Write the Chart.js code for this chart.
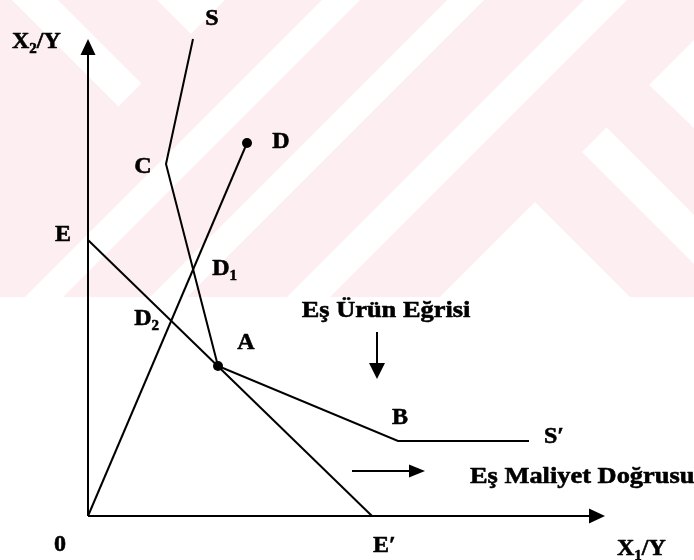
<!DOCTYPE html>
<html><head><meta charset="utf-8">
<script src="https://cdn.jsdelivr.net/npm/chart.js@4"></script>
<style>html,body{margin:0;padding:0;background:#fff}canvas{display:block}</style>
</head><body>
<canvas id="c" width="694" height="560"></canvas>
<script>
// ---- data (arbitrary units) ----
const isoquantX = [10.5, 7.8, 13.0, 31.0, 44.1];
const isoquantY = [47.7, 35.2, 15.0, 7.5, 7.5];
const isoquantNames = ['S', 'C', 'A', 'B', 'S′'];
const isocostX = [0, 28.4];
const isocostY = [27.6, 0];
const isocostNames = ['E', 'E′'];
const rayX = [0, 15.9];
const rayY = [0, 37.3];
const rayNames = ['0', 'D'];
const axisMax = [51.7, 47.7];
const captionIsoquant = 'Eş Ürün Eğrisi';
const captionIsocost = 'Eş Maliyet Doğrusu';
const isoquantArrowX = 28.9, isoquantArrowY = [18.4, 13.7];
const isocostArrowY = 4.5, isocostArrowX = [26.4, 33.7];

const toPts = (xs, ys) => xs.map((x, i) => ({x, y: ys[i]}));

// intersection of two lines (data space)
function intersect(p1, p2, p3, p4) {
  const d = (p1.x - p2.x) * (p3.y - p4.y) - (p1.y - p2.y) * (p3.x - p4.x);
  const t = ((p1.x - p3.x) * (p3.y - p4.y) - (p1.y - p3.y) * (p3.x - p4.x)) / d;
  return {x: p1.x + t * (p2.x - p1.x), y: p1.y + t * (p2.y - p1.y)};
}
const isoPts = toPts(isoquantX, isoquantY);
const costPts = toPts(isocostX, isocostY);
const rayPts = toPts(rayX, rayY);
const D1 = intersect(rayPts[0], rayPts[1], isoPts[1], isoPts[2]);
const D2 = intersect(rayPts[0], rayPts[1], costPts[0], costPts[1]);

// ---- label layout (pixel offsets from anchors) ----
const FONT = '"Liberation Serif","Times New Roman",serif';
const labelLayout = {
  'S': [19, -14, 'center'], 'C': [-23, 9, 'center'], 'A': [28, -17, 'center'],
  'B': [2, -17, 'center'], 'S′': [15, 2, 'left'], 'E': [-25, 1, 'center'],
  'E′': [1, 36, 'left'], 'D': [34, 5, 'center'], '0': [-28, 35, 'center']
};

function drawRuns(ctx, runs, x, y, align, stretch) {
  ctx.save();
  let w = 0;
  runs.forEach(r => { ctx.font = r.sub ? 'bold 15px ' + FONT : 'bold 24px ' + FONT; r.w = ctx.measureText(r.t).width; w += r.w; });
  ctx.translate(x, y);
  ctx.scale(stretch || 1, 1);
  let cx = align === 'center' ? -w / 2 : 0;
  ctx.textAlign = 'left';
  ctx.textBaseline = 'alphabetic';
  ctx.fillStyle = '#000';
  ctx.strokeStyle = '#000';
  ctx.lineWidth = 0.6;
  ctx.lineJoin = 'round';
  runs.forEach(r => {
    ctx.font = r.sub ? 'bold 15px ' + FONT : 'bold 24px ' + FONT;
    ctx.fillText(r.t, cx, r.sub ? 5 : 0);
    ctx.strokeText(r.t, cx, r.sub ? 5 : 0);
    cx += r.w;
  });
  ctx.restore();
}

function arrow(ctx, x1, y1, x2, y2, len, wid, lw) {
  const a = Math.atan2(y2 - y1, x2 - x1);
  ctx.save();
  ctx.strokeStyle = '#000'; ctx.fillStyle = '#000'; ctx.lineWidth = lw;
  ctx.beginPath();
  ctx.moveTo(x1, y1);
  ctx.lineTo(x2 - Math.cos(a) * (len - 2), y2 - Math.sin(a) * (len - 2));
  ctx.stroke();
  ctx.translate(x2, y2); ctx.rotate(a);
  ctx.beginPath();
  ctx.moveTo(0, 0); ctx.lineTo(-len, -wid / 2); ctx.lineTo(-len, wid / 2); ctx.closePath();
  ctx.fill();
  ctx.restore();
}

const watermark = {
  id: 'watermark',
  beforeDraw(chart) {
    const ctx = chart.ctx;
    ctx.save();
    ctx.fillStyle = '#fff';
    ctx.fillRect(0, 0, chart.width, chart.height);
    ctx.beginPath(); ctx.rect(0, 0, chart.width, 297); ctx.clip();
    ctx.fillStyle = '#fdeef1';
    ctx.fillRect(0, 0, chart.width, 297);
    ctx.fillStyle = '#fff';
    const polys = [
      [[12,0],[58,0],[141.5,83.5],[118.5,106.5]],
      [[157,0],[225,0],[191,34]],
      [[322,0],[360,0],[63,297],[25,297]],
      [[447,0],[484,0],[187,297],[150,297]],
      [[584,0],[627,0],[330,297],[287,297]],
      [[649,85],[694,40],[694,128]],
      [[606.5,127.5],[694,215],[694,264],[582,152]],
      [[535,202],[440,297],[630,297]]
    ];
    polys.forEach(p => {
      ctx.beginPath();
      p.forEach((q, i) => i ? ctx.lineTo(q[0], q[1]) : ctx.moveTo(q[0], q[1]));
      ctx.closePath(); ctx.fill();
    });
    ctx.restore();
  }
};

const annotations = {
  id: 'annotations',
  afterDatasetsDraw(chart) {
    const ctx = chart.ctx, xs = chart.scales.x, ys = chart.scales.y, a = chart.chartArea;
    const px = v => xs.getPixelForValue(v), py = v => ys.getPixelForValue(v);
    // axes
    arrow(ctx, a.left, a.bottom, a.left, a.top, 16, 15, 2);
    arrow(ctx, a.left, a.bottom, a.right, a.bottom, 16, 15, 2);
    // caption arrows
    arrow(ctx, px(isoquantArrowX), py(isoquantArrowY[0]), px(isoquantArrowX), py(isoquantArrowY[1]), 16, 16, 2);
    arrow(ctx, px(isocostArrowX[0]), py(isocostArrowY), px(isocostArrowX[1]), py(isocostArrowY), 16, 13, 2);
    // point labels
    const named = [];
    isoquantNames.forEach((n, i) => named.push([n, isoPts[i]]));
    isocostNames.forEach((n, i) => named.push([n, costPts[i]]));
    rayNames.forEach((n, i) => named.push([n, rayPts[i]]));
    named.forEach(([n, p]) => {
      const L = labelLayout[n];
      drawRuns(ctx, [{t: n}], px(p.x) + L[0], py(p.y) + L[1], L[2]);
    });
    drawRuns(ctx, [{t: 'D'}, {t: '1', sub: true}], px(D1.x) + 19, py(D1.y) + 6, 'left');
    drawRuns(ctx, [{t: 'D'}, {t: '2', sub: true}], px(D2.x) - 37, py(D2.y) + 4, 'left');
    // axis titles
    drawRuns(ctx, [{t: 'X'}, {t: '2', sub: true}, {t: '/Y'}], a.left - 76, a.top + 9, 'left');
    drawRuns(ctx, [{t: 'X'}, {t: '1', sub: true}, {t: '/Y'}], a.right + 12, a.bottom + 39, 'left');
    // captions
    drawRuns(ctx, [{t: captionIsoquant}], px(isoquantArrowX) + 9, py(isoquantArrowY[0]) - 15, 'center', 1.1);
    drawRuns(ctx, [{t: captionIsocost}], px(isocostArrowX[1]) + 45, py(isocostArrowY) + 12, 'left', 1.1);
  }
};

const lineDs = (data, radii) => ({
  data, showLine: true, borderColor: '#000', borderWidth: 2, tension: 0,
  pointRadius: radii, pointHoverRadius: radii, pointBackgroundColor: '#000', pointBorderWidth: 0,
  borderJoinStyle: 'miter', clip: false
});

new Chart(document.getElementById('c'), {
  type: 'scatter',
  data: {
    datasets: [
      lineDs(isoPts, [0, 0, 5, 0, 0]),
      lineDs(costPts, [0, 0]),
      lineDs(rayPts, [0, 5])
    ]
  },
  plugins: [watermark, annotations],
  options: {
    responsive: false, animation: false, devicePixelRatio: 1,
    layout: {padding: {left: 88, right: 89, top: 39, bottom: 44}},
    plugins: {legend: {display: false}, tooltip: {enabled: false}},
    scales: {
      x: {type: 'linear', display: false, min: 0, max: axisMax[0]},
      y: {type: 'linear', display: false, min: 0, max: axisMax[1]}
    }
  }
});
</script>
</body></html>
